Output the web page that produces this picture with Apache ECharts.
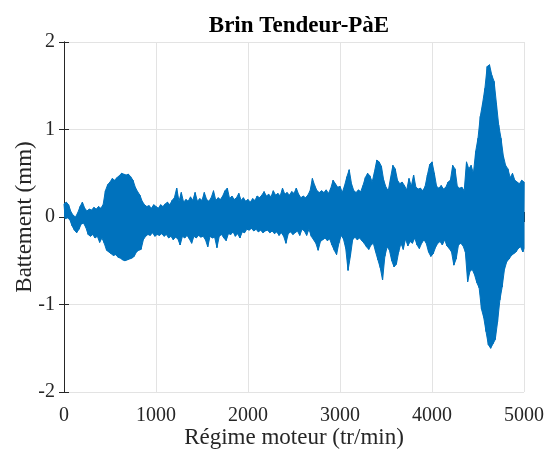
<!DOCTYPE html>
<html>
<head>
<meta charset="utf-8">
<script src="https://cdn.jsdelivr.net/npm/echarts@6/dist/echarts.min.js"></script>
<style>html,body{margin:0;padding:0;background:#fff}#c{width:547px;height:455px}</style>
</head>
<body>
<div id="c"></div>
<script>
const title = 'Brin Tendeur-PàE';
const xName = 'Régime moteur (tr/min)';
const yName = 'Battement (mm)';
const xTicks = [0, 1000, 2000, 3000, 4000, 5000];
const yTicks = [-2, -1, 0, 1, 2];
const rpmStep = 25; // envelope sampled every 25 tr/min from 0 to 5000

// upper envelope of the signal (mm)
const upper = [
  0.15,0.17,0.14,0.06,0.02,0.00,0.05,0.12,0.17,0.10, 0.07,0.09,0.08,0.11,0.09,0.12,0.10,0.14,0.30,0.37,
  0.40,0.44,0.42,0.45,0.47,0.50,0.49,0.48,0.49,0.46, 0.42,0.34,0.29,0.25,0.18,0.14,0.12,0.13,0.10,0.14,
  0.12,0.10,0.14,0.12,0.15,0.17,0.14,0.19,0.22,0.33, 0.18,0.28,0.17,0.20,0.18,0.23,0.19,0.28,0.18,0.21,
  0.19,0.28,0.20,0.18,0.22,0.30,0.19,0.22,0.20,0.24, 0.30,0.33,0.21,0.24,0.20,0.22,0.27,0.19,0.22,0.18,
  0.20,0.17,0.21,0.19,0.24,0.22,0.25,0.29,0.24,0.26, 0.23,0.30,0.25,0.27,0.24,0.33,0.26,0.28,0.25,0.29,
  0.27,0.33,0.26,0.22,0.24,0.22,0.25,0.30,0.44,0.36, 0.30,0.28,0.30,0.28,0.31,0.27,0.33,0.42,0.38,0.34,
  0.35,0.28,0.36,0.46,0.54,0.38,0.30,0.28,0.31,0.29, 0.36,0.45,0.50,0.47,0.40,0.52,0.65,0.63,0.58,0.42,
  0.34,0.30,0.45,0.59,0.55,0.42,0.38,0.40,0.36,0.31, 0.44,0.35,0.48,0.34,0.32,0.33,0.30,0.35,0.48,0.60,
  0.63,0.50,0.35,0.33,0.36,0.32,0.34,0.40,0.42,0.59, 0.55,0.35,0.33,0.34,0.30,0.63,0.55,0.59,0.50,0.75,
  0.90,1.15,1.30,1.47,1.72,1.74,1.62,1.55,1.30,1.05, 0.90,0.70,0.59,0.55,0.45,0.50,0.42,0.40,0.38,0.42,
  0.40
];
// lower envelope of the signal (mm)
const lower = [
  -0.02,-0.01,-0.03,-0.10,-0.15,-0.18,-0.14,-0.08,-0.07,-0.12, -0.20,-0.22,-0.20,-0.24,-0.22,-0.29,-0.24,-0.30,-0.38,-0.40,
  -0.42,-0.44,-0.43,-0.46,-0.47,-0.49,-0.50,-0.49,-0.48,-0.47, -0.45,-0.40,-0.38,-0.37,-0.26,-0.22,-0.20,-0.21,-0.18,-0.22,
  -0.20,-0.21,-0.19,-0.22,-0.20,-0.24,-0.22,-0.26,-0.23,-0.25, -0.32,-0.22,-0.24,-0.21,-0.25,-0.30,-0.22,-0.24,-0.21,-0.23,
  -0.22,-0.26,-0.34,-0.22,-0.24,-0.23,-0.35,-0.22,-0.20,-0.24, -0.27,-0.19,-0.20,-0.17,-0.22,-0.19,-0.24,-0.17,-0.18,-0.14,
  -0.15,-0.13,-0.16,-0.14,-0.17,-0.15,-0.18,-0.16,-0.15,-0.18, -0.16,-0.19,-0.17,-0.21,-0.18,-0.22,-0.30,-0.19,-0.17,-0.20,
  -0.18,-0.16,-0.21,-0.14,-0.16,-0.21,-0.14,-0.22,-0.26,-0.30, -0.38,-0.28,-0.26,-0.24,-0.27,-0.25,-0.32,-0.38,-0.43,-0.30,
  -0.21,-0.25,-0.36,-0.61,-0.45,-0.26,-0.23,-0.26,-0.24,-0.27, -0.30,-0.34,-0.37,-0.32,-0.30,-0.40,-0.49,-0.58,-0.72,-0.45,
  -0.34,-0.38,-0.50,-0.57,-0.54,-0.40,-0.30,-0.37,-0.25,-0.33, -0.28,-0.30,-0.24,-0.32,-0.36,-0.30,-0.26,-0.30,-0.40,-0.45,
  -0.42,-0.35,-0.30,-0.28,-0.32,-0.26,-0.33,-0.36,-0.40,-0.55, -0.48,-0.32,-0.30,-0.33,-0.40,-0.74,-0.62,-0.60,-0.66,-0.75,
  -0.81,-1.05,-1.15,-1.31,-1.46,-1.50,-1.45,-1.40,-1.20,-0.95, -0.80,-0.60,-0.51,-0.48,-0.44,-0.42,-0.40,-0.36,-0.34,-0.40,
  -0.36
];

const rpm = upper.map((_, i) => i * rpmStep);
const upperPts = rpm.map((r, i) => [r, upper[i]]);
const lowerPts = rpm.map((r, i) => [Math.min(r + rpmStep / 2, 5000), lower[i]]);
// oscillating trace alternating between the read envelopes
const trace = [];
rpm.forEach((r, i) => { trace.push(upperPts[i]); trace.push(lowerPts[i]); });

const blue = '#0072BD';
const font = 'Liberation Serif, Times New Roman, serif';
const ink = '#262626';
const chart = echarts.init(document.getElementById('c'), null, {renderer: 'canvas'});
const axX = {type: 'value', min: xTicks[0], max: xTicks[xTicks.length - 1], interval: 1000};
const axY = {type: 'value', min: yTicks[0], max: yTicks[yTicks.length - 1], interval: 1};
const plain = v => String(v);
const fill = data => ({
  type: 'line', xAxisIndex: 0, yAxisIndex: 0, data: data,
  showSymbol: false, symbol: 'none', clip: true,
  lineStyle: {color: blue, width: 1},
  areaStyle: {color: blue, opacity: 1, origin: 0}
});
chart.setOption({
  animation: false,
  backgroundColor: '#ffffff',
  title: {
    text: title, left: 294, top: 10, textAlign: 'center',
    textStyle: {fontFamily: font, fontSize: 23, fontWeight: 'bold', color: '#000'}
  },
  grid: {left: 64, right: 23, top: 42, bottom: 63, containLabel: false},
  xAxis: [
    Object.assign({}, axX, {
      position: 'bottom',
      name: xName, nameLocation: 'middle', nameGap: 34, nameMoveOverlap: false,
      nameTextStyle: {fontFamily: font, fontSize: 23, color: ink},
      axisLine: {show: true, lineStyle: {color: ink, width: 1}},
      axisTick: {show: true, inside: true, length: 5, lineStyle: {color: ink}},
      axisLabel: {fontFamily: font, fontSize: 20, color: ink, margin: 14, formatter: plain},
      splitLine: {show: true, lineStyle: {color: '#e3e3e3', width: 1}}
    }),
    Object.assign({}, axX, {
      position: 'top',
      axisLine: {show: true, lineStyle: {color: ink, width: 1}},
      axisTick: {show: true, inside: true, length: 5, lineStyle: {color: ink}},
      axisLabel: {show: false}, splitLine: {show: false}
    })
  ],
  yAxis: [
    Object.assign({}, axY, {
      position: 'left',
      name: yName, nameLocation: 'middle', nameGap: 28, nameMoveOverlap: false,
      nameTextStyle: {fontFamily: font, fontSize: 23, color: ink},
      axisLine: {show: true, lineStyle: {color: ink, width: 1}},
      axisTick: {show: true, inside: true, length: 5, lineStyle: {color: ink}},
      axisLabel: {fontFamily: font, fontSize: 20, color: ink, margin: 9, formatter: plain},
      splitLine: {show: true, lineStyle: {color: '#e3e3e3', width: 1}}
    }),
    Object.assign({}, axY, {
      position: 'right',
      axisLine: {show: true, lineStyle: {color: ink, width: 1}},
      axisTick: {show: true, inside: true, length: 5, lineStyle: {color: ink}},
      axisLabel: {show: false}, splitLine: {show: false}
    })
  ],
  series: [
    fill(upperPts),
    fill(lowerPts),
    {
      type: 'line', xAxisIndex: 0, yAxisIndex: 0,
      data: trace, showSymbol: false, symbol: 'none', clip: true,
      lineStyle: {color: blue, width: 1}
    }
  ]
});
</script>
</body>
</html>
